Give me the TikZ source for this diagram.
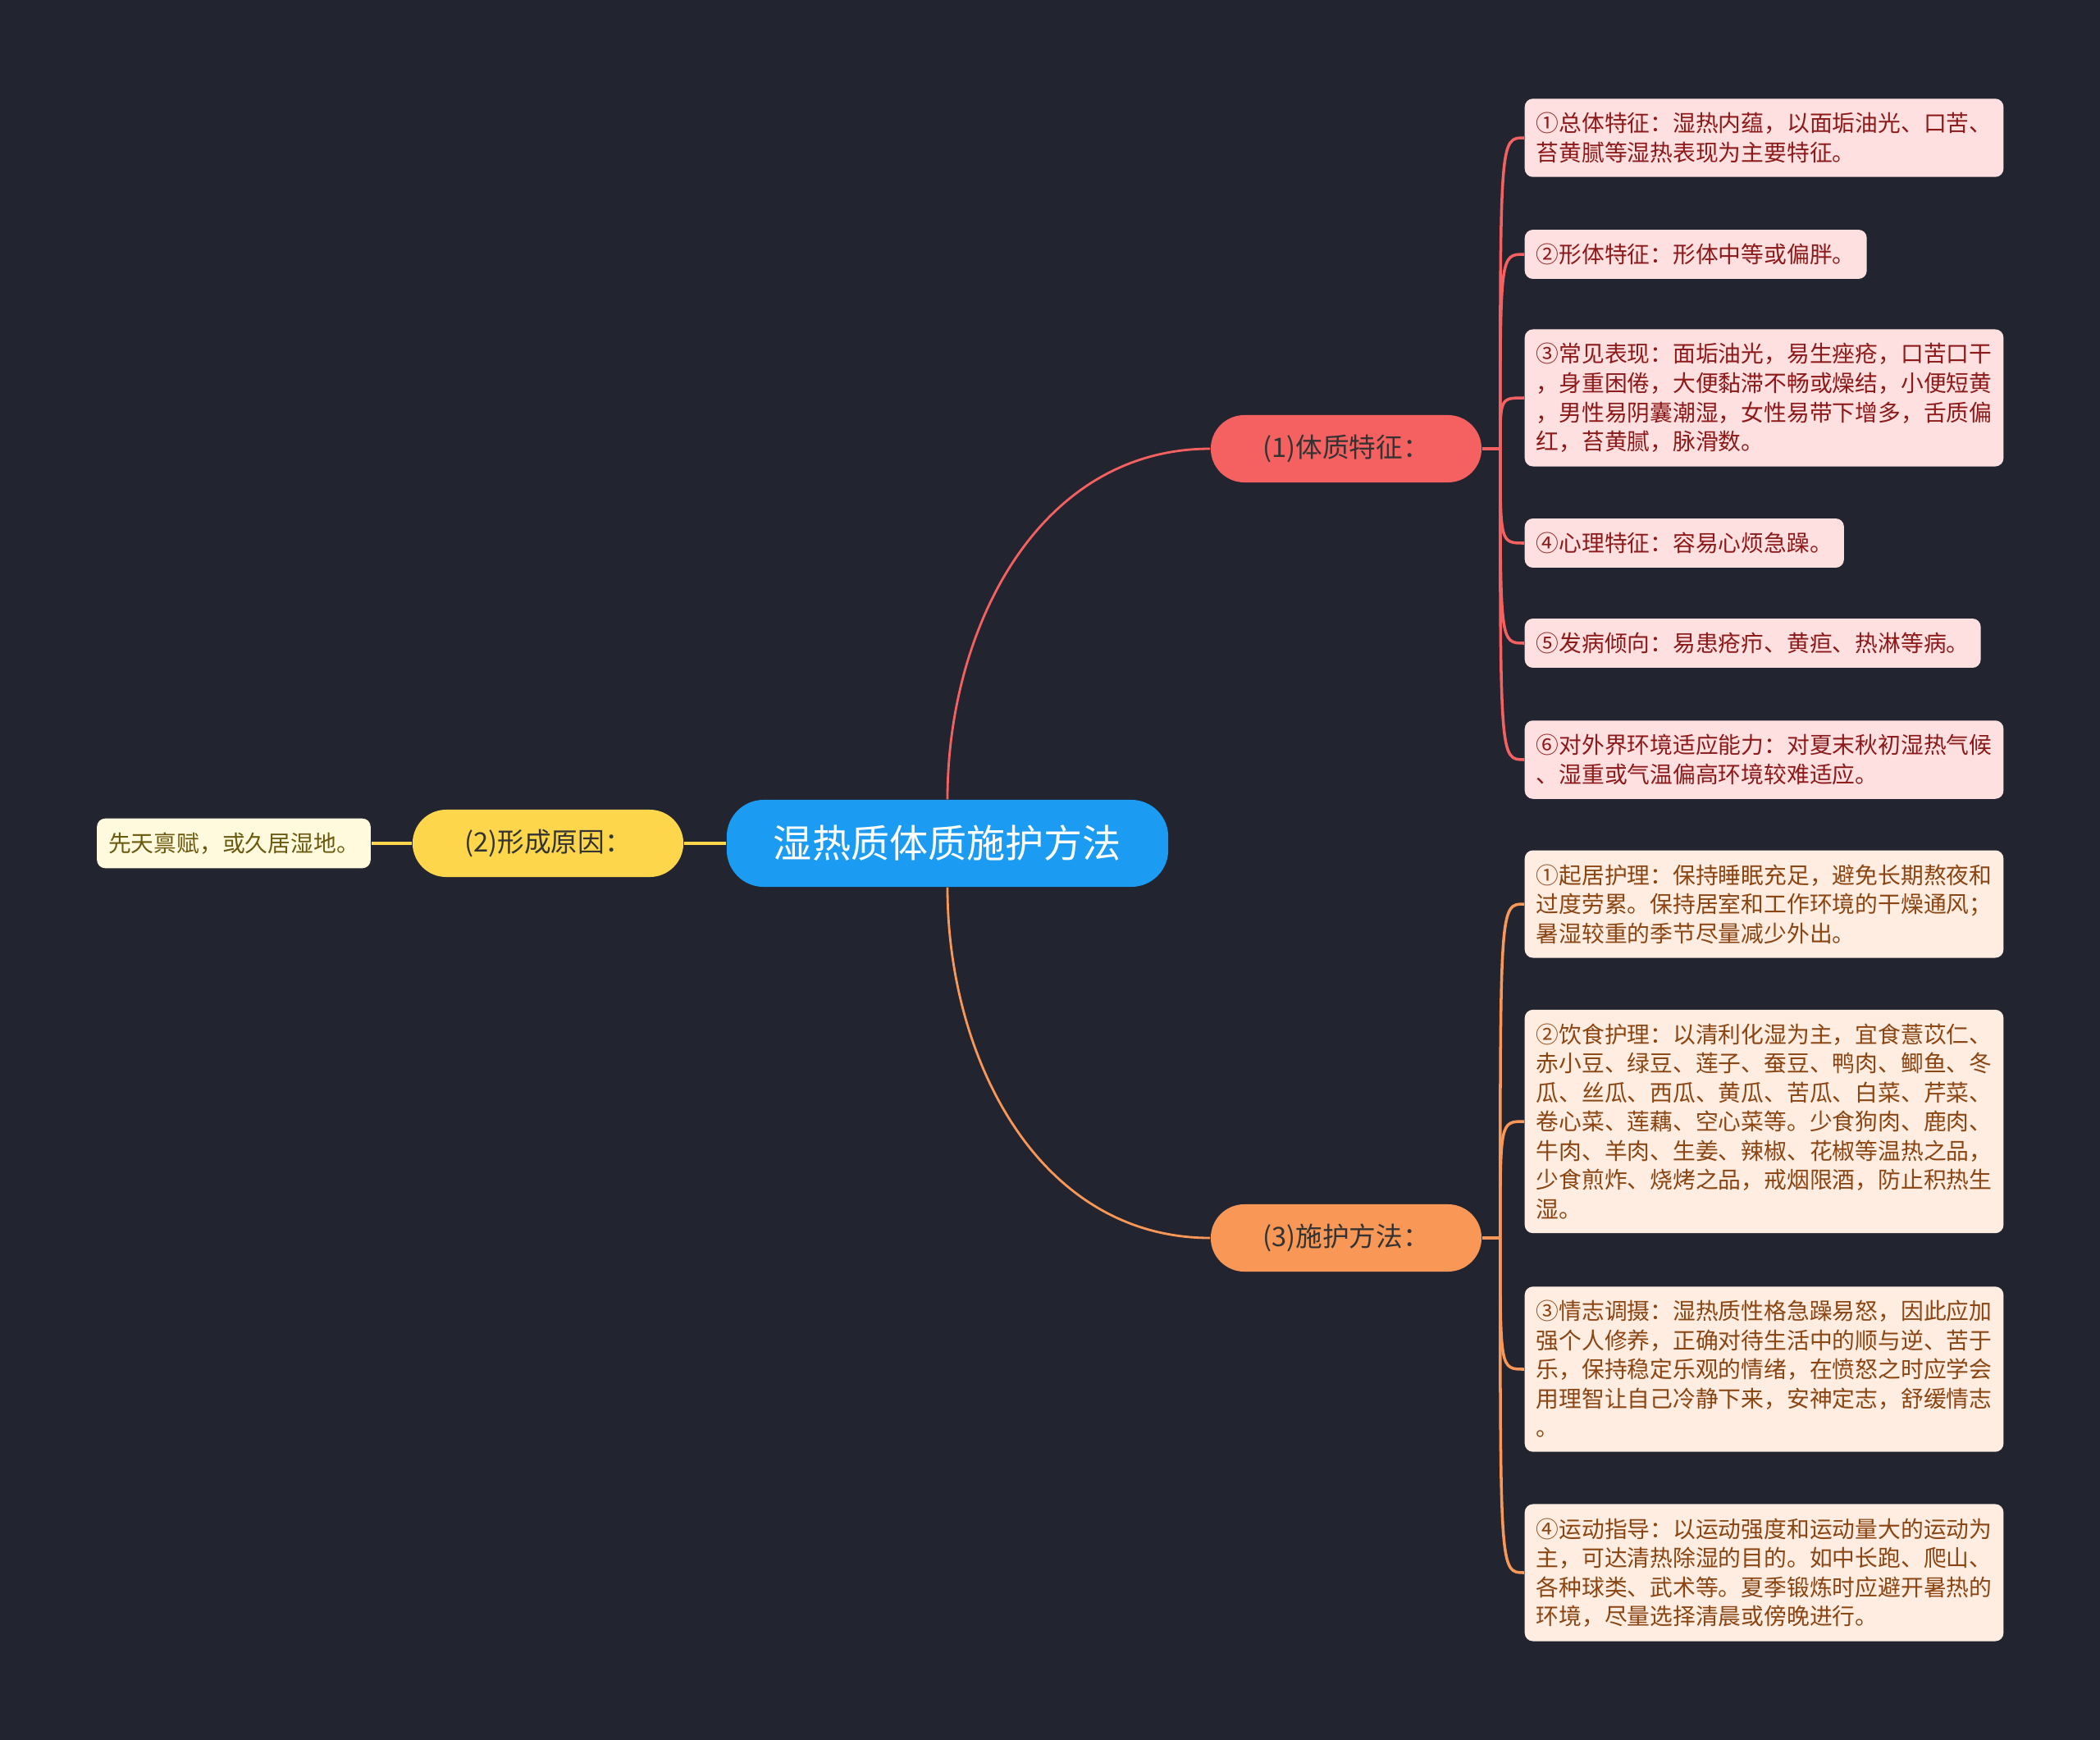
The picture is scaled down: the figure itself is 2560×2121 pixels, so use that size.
\documentclass[tikz,border=0pt]{standalone}
\usepackage{fontspec}
\setmainfont{Noto Sans CJK SC}
\usepackage{tikz}
\usetikzlibrary{positioning,calc}
\usepackage{xcolor}

\definecolor{bgdark}{HTML}{222430}
\definecolor{rootblue}{HTML}{1C9BF2}
\definecolor{topicred}{HTML}{F56161}
\definecolor{topicorange}{HTML}{F99856}
\definecolor{topicyellow}{HTML}{FDD64B}
\definecolor{leafred}{HTML}{FFE0E1}
\definecolor{leaforange}{HTML}{FFEDE1}
\definecolor{leafyellow}{HTML}{FFF9DE}
\definecolor{textred}{HTML}{8C1A1A}
\definecolor{textorange}{HTML}{8A4513}
\definecolor{textyellow}{HTML}{6B5A0E}

\begin{document}
\begin{tikzpicture}[
    x=0.01cm, y=-0.01cm,
    rootnode/.style={fill=rootblue, text=white, rounded corners=0.45cm, minimum width=5.38cm, minimum height=1.06cm, font=\fontsize{13.4}{16}\selectfont},
    topicnode/.style={rounded corners=0.41cm, minimum width=3.3cm, minimum height=0.82cm, text=black!80, font=\fontsize{9.3}{11}\selectfont},
    leafnode/.style={rounded corners=0.1cm, align=left, inner xsep=0.14cm, inner ysep=0.17cm, font=\fontsize{7.9}{10.1}\selectfont},
    redleaf/.style={leafnode, anchor=west, fill=leafred, text=textred},
    orangeleaf/.style={leafnode, anchor=west, fill=leaforange, text=textorange},
    rootlink/.style={draw, line width=0.8pt},
    leaflink/.style={draw, line width=1pt},
]

\fill[bgdark] (0,0) rectangle (2560,2121);
\useasboundingbox (0,0) rectangle (2560,2121);

\node[rootnode] (root) at (1155,1028) {湿热质体质施护方法};

\node[topicnode, fill=topicred] (t1) at (1641,547) {(1)体质特征：};
\node[topicnode, fill=topicyellow] (t2) at (668,1028) {(2)形成原因：};
\node[topicnode, fill=topicorange] (t3) at (1641,1509) {(3)施护方法：};

\node[leafnode, fill=leafyellow, text=textyellow] (c1) at (285,1028) {先天禀赋，或久居湿地。};

\node[redleaf] (a1) at (1858,168) {①总体特征：湿热内蕴，以面垢油光、口苦、\\苔黄腻等湿热表现为主要特征。};
\node[redleaf] (a2) at (1858,310) {②形体特征：形体中等或偏胖。};
\node[redleaf] (a3) at (1858,485) {③常见表现：面垢油光，易生痤疮，口苦口干\\，身重困倦，大便黏滞不畅或燥结，小便短黄\\，男性易阴囊潮湿，女性易带下增多，舌质偏\\红，苔黄腻，脉滑数。};
\node[redleaf] (a4) at (1858,662) {④心理特征：容易心烦急躁。};
\node[redleaf] (a5) at (1858,784) {⑤发病倾向：易患疮疖、黄疸、热淋等病。};
\node[redleaf] (a6) at (1858,926) {⑥对外界环境适应能力：对夏末秋初湿热气候\\、湿重或气温偏高环境较难适应。};

\node[orangeleaf] (b1) at (1858,1102) {①起居护理：保持睡眠充足，避免长期熬夜和\\过度劳累。保持居室和工作环境的干燥通风；\\暑湿较重的季节尽量减少外出。};
\node[orangeleaf] (b2) at (1858,1367) {②饮食护理：以清利化湿为主，宜食薏苡仁、\\赤小豆、绿豆、莲子、蚕豆、鸭肉、鲫鱼、冬\\瓜、丝瓜、西瓜、黄瓜、苦瓜、白菜、芹菜、\\卷心菜、莲藕、空心菜等。少食狗肉、鹿肉、\\牛肉、羊肉、生姜、辣椒、花椒等温热之品，\\少食煎炸、烧烤之品，戒烟限酒，防止积热生\\湿。};
\node[orangeleaf] (b3) at (1858,1669) {③情志调摄：湿热质性格急躁易怒，因此应加\\强个人修养，正确对待生活中的顺与逆、苦于\\乐，保持稳定乐观的情绪，在愤怒之时应学会\\用理智让自己冷静下来，安神定志，舒缓情志\\。};
\node[orangeleaf] (b4) at (1858,1917) {④运动指导：以运动强度和运动量大的运动为\\主，可达清热除湿的目的。如中长跑、爬山、\\各种球类、武术等。夏季锻炼时应避开暑热的\\环境，尽量选择清晨或傍晚进行。};

% main branches
\draw[rootlink, topicred] (root.north) to[out=90, in=180] (t1.west);
\draw[rootlink, topicorange] (root.south) to[out=270, in=180] (t3.west);
\draw[topicyellow, line width=1.2pt] (root.west) -- (t2.east);
\draw[topicyellow, line width=1.2pt] (t2.west) -- (c1.east);

% leaf fans
\coordinate (j1) at ($(t1.east)+(22,0)$);
\coordinate (j3) at ($(t3.east)+(22,0)$);
\draw[leaflink, topicred] (t1.east) -- (j1);
\draw[leaflink, topicorange] (t3.east) -- (j3);
\foreach \n in {1,...,6}
    \draw[leaflink, topicred] (j1) .. controls (j1 |- a\n.west) .. (a\n.west);
\foreach \n in {1,...,4}
    \draw[leaflink, topicorange] (j3) .. controls (j3 |- b\n.west) .. (b\n.west);

\end{tikzpicture}
\end{document}
